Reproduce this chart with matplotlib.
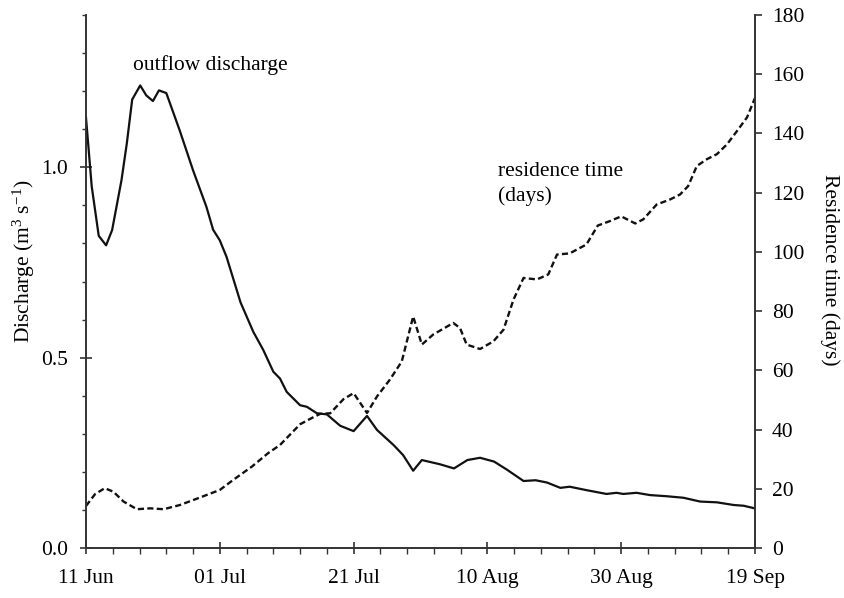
import numpy as np
import matplotlib
matplotlib.use('Agg')
import matplotlib.pyplot as plt
from matplotlib.ticker import MultipleLocator

plt.rcParams['font.family'] = 'Liberation Serif'
plt.rcParams['mathtext.fontset'] = 'custom'
plt.rcParams['mathtext.rm'] = 'Liberation Serif'
plt.rcParams['mathtext.it'] = 'Liberation Serif:italic'

# days since 11 Jun
q_days = [0, 0.85, 1.9, 3.0, 3.9, 5.3, 6.1, 6.9, 8.1, 9.0, 10.0, 10.9, 12.0,
          14.0, 16.0, 18.0, 19.0, 20.0, 21.0, 23.1, 25.0, 26.5, 28.0, 29.0,
          30.0, 32.0, 33.0, 34.5, 36.0, 38.0, 40.0, 42.0, 43.5, 46.0, 47.4,
          48.9, 50.2, 52.9, 55.0, 57.0, 58.9, 61.0, 62.9, 65.4, 67.2, 68.9,
          70.9, 72.3, 74.8, 77.8, 79.3, 80.3, 82.3, 84.3, 86.8, 89.3, 91.8,
          94.3, 96.8, 98.3, 100]
discharge = [1.13, 0.95, 0.82, 0.795, 0.835, 0.966, 1.063, 1.178, 1.215, 1.189,
             1.174, 1.202, 1.195, 1.097, 0.992, 0.896, 0.836, 0.808, 0.765,
             0.645, 0.568, 0.520, 0.463, 0.445, 0.410, 0.375, 0.371, 0.354,
             0.351, 0.321, 0.307, 0.347, 0.310, 0.270, 0.244, 0.203, 0.231,
             0.220, 0.209, 0.231, 0.237, 0.227, 0.206, 0.176, 0.178, 0.172,
             0.158, 0.161, 0.152, 0.142, 0.145, 0.142, 0.145, 0.139, 0.136,
             0.132, 0.122, 0.120, 0.113, 0.111, 0.104]

r_days = [0, 1.35, 2.8, 4.1, 5.6, 7.6, 9.6, 11.6, 14.0, 16.5, 20.0, 22.0,
          24.8, 27.2, 29.0, 32.0, 34.0, 35.0, 36.5, 38.5, 40.0, 42.0, 43.5,
          45.4, 47.2, 48.9, 50.2, 51.9, 54.9, 55.9, 56.9, 58.9, 60.9, 62.4,
          63.9, 65.4, 67.4, 69.1, 70.4, 72.3, 74.8, 76.5, 78.3, 80.0, 82.1,
          83.3, 85.3, 87.3, 88.8, 90.0, 91.3, 92.8, 94.3, 95.8, 97.3, 98.8, 100]
residence = [14.2, 18.2, 20.2, 19.0, 15.7, 13.1, 13.4, 13.1, 14.5, 16.6, 19.6,
             23.0, 27.5, 32.0, 34.8, 41.8, 44.2, 45.3, 45.5, 50.3, 52.3, 45.6,
             51.2, 56.8, 63.0, 78.2, 68.7, 72.1, 76.0, 74.3, 68.7, 67.2, 69.8,
             73.7, 83.9, 91.2, 90.7, 92.4, 99.1, 99.5, 102.5, 108.9, 110.4,
             112.0, 109.6, 111.0, 116.0, 117.7, 119.4, 122.2, 129.0, 131.3,
             133.0, 136.3, 140.8, 145.4, 152.0]

date_ticks = [0, 20, 40, 60, 80, 100]
date_labels = ['11 Jun', '01 Jul', '21 Jul', '10 Aug', '30 Aug', '19 Sep']

axis_col = '#333333'
fs = 15.5

fig = plt.figure(figsize=(8.45, 5.98), dpi=100)
ax = fig.add_axes([0.1018, 0.0836, 0.7917, 0.8913])
ax2 = ax.twinx()

ax.plot(q_days, discharge, color='#111111', lw=1.6, zorder=3)
ax2.plot(r_days, residence, color='#111111', lw=1.7, linestyle=(0, (2.6, 1.4)))

ax.set_xlim(0, 100)
ax.set_ylim(0, 1.4)
ax2.set_ylim(0, 180)

ax.set_xticks(date_ticks)
ax.set_xticklabels(date_labels)
ax.xaxis.set_minor_locator(MultipleLocator(4))
ax.set_yticks([0, 0.5, 1.0])
ax.set_yticklabels(['0.0', '0.5', '1.0'])
ax.yaxis.set_minor_locator(MultipleLocator(0.1))
ax2.set_yticks(np.arange(0, 181, 20))

for a in (ax, ax2):
    a.spines['top'].set_visible(False)
    for s in ('left', 'right', 'bottom'):
        a.spines[s].set_color(axis_col)
        a.spines[s].set_linewidth(1.2)

ax.tick_params(axis='x', which='major', direction='inout', length=9, width=1.2,
               color=axis_col, labelsize=fs, pad=10.5)
ax.tick_params(axis='x', which='minor', direction='out', length=4, width=1.0,
               color=axis_col)
ax.tick_params(axis='y', which='major', direction='inout', length=8, width=1.2,
               color=axis_col, labelsize=fs, pad=9)
ax.tick_params(axis='y', which='minor', direction='out', length=3, width=1.0,
               color=axis_col)
ax2.tick_params(axis='y', which='major', direction='out', length=5, width=1.2,
                color=axis_col, labelsize=fs, pad=7)

ax.set_ylabel('Discharge (m$^3$ s$^{-1}$)', fontsize=fs)
ax.yaxis.set_label_coords(-0.073, 0.537)
ax2.set_ylabel('Residence time (days)', fontsize=fs, rotation=270)
ax2.yaxis.set_label_coords(1.127, 0.522)

ax.text(7.0, 1.268, 'outflow discharge', fontsize=fs, ha='left', va='center')
ax.text(61.6, 0.955, 'residence time\n(days)', fontsize=fs, ha='left',
        va='center', linespacing=1.35)

fig.savefig('out.png', dpi=100)
